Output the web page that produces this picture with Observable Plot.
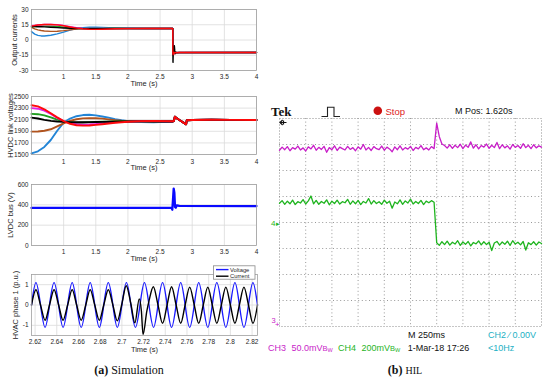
<!DOCTYPE html>
<html><head><meta charset="utf-8">
<script src="https://cdn.jsdelivr.net/npm/d3@7"></script>
<script src="https://cdn.jsdelivr.net/npm/@observablehq/plot@0.6"></script>
<style>
body{margin:0;background:#fff;}
#root{position:relative;width:550px;height:381px;overflow:hidden;background:#fff;}
</style></head><body><div id="root"></div>
<script>
// ---------- Panel 1: Output currents ----------
const curTimes = [0.5, 0.55, 0.6, 0.65, 0.7, 0.8, 0.9, 1.0, 1.1, 1.2, 1.3, 1.4, 1.5, 1.6, 1.8, 2.0, 2.3, 2.697];
const curBlue    = [8.2, 5.8, 4.5, 4.0, 4.0, 4.7, 6.0, 7.8, 9.7, 11.2, 12.2, 12.6, 12.6, 12.4, 11.9, 11.5, 11.3, 11.3];
const curBrown   = [12.5, 11.0, 10.0, 9.3, 8.9, 8.5, 8.6, 9.2, 10.0, 10.8, 11.2, 11.4, 11.4, 11.4, 11.3, 11.3, 11.3, 11.3];
const curGreen   = [13.0, 13.2, 13.4, 13.5, 13.6, 13.6, 13.3, 12.7, 12.0, 11.5, 11.2, 11.1, 11.1, 11.2, 11.3, 11.3, 11.3, 11.3];
const curMagenta = [14.0, 14.4, 14.8, 15.0, 15.2, 15.3, 15.0, 14.2, 13.0, 12.0, 11.3, 11.0, 10.9, 11.0, 11.2, 11.3, 11.3, 11.3];
const curBlack   = [13.2, 13.2, 13.1, 13.0, 12.9, 12.6, 12.2, 11.8, 11.5, 11.3, 11.2, 11.2, 11.2, 11.2, 11.3, 11.3, 11.3, 11.3];
const curRed     = [13.6, 14.2, 14.7, 15.0, 15.2, 15.3, 14.9, 14.0, 12.8, 11.7, 11.0, 10.6, 10.5, 10.6, 11.0, 11.2, 11.3, 11.3];
const curTailT = [2.699, 2.703, 2.708, 2.715, 2.725, 2.74, 2.8, 4.0];
const curTailV = [-13, -14.5, -12, -13.5, -12.3, -12.5, -12.3, -12.3];
const curBlackTailT = [2.699, 2.701, 2.705, 2.712, 2.722, 2.728, 2.735, 2.745, 2.76, 4.0];
const curBlackTailV = [-10, -22, -13, -8, -5.5, -10, -13.5, -12, -12.4, -12.3];
const curXTicks = [1, 1.5, 2, 2.5, 3, 3.5, 4];
const curYTicks = [-30, -15, 0, 15, 30];

// ---------- Panel 2: HVDC link voltages ----------
const hvdcTimes = [0.5, 0.6, 0.7, 0.8, 0.9, 1.0, 1.1, 1.2, 1.3, 1.4, 1.5, 1.6, 1.7, 1.8, 1.9, 2.0, 2.2, 2.4, 2.6, 2.7];
const hvdcBlue    = [1520, 1555, 1630, 1750, 1910, 2050, 2120, 2160, 2180, 2185, 2175, 2155, 2135, 2110, 2090, 2075, 2060, 2055, 2062, 2068];
const hvdcBrown   = [1895, 1897, 1910, 1935, 1985, 2035, 2080, 2108, 2122, 2128, 2126, 2118, 2105, 2092, 2082, 2076, 2070, 2068, 2068, 2068];
const hvdcGreen   = [2200, 2195, 2175, 2140, 2100, 2070, 2055, 2050, 2052, 2056, 2060, 2064, 2067, 2070, 2072, 2073, 2073, 2070, 2068, 2068];
const hvdcMagenta = [2300, 2290, 2255, 2200, 2130, 2075, 2040, 2022, 2015, 2018, 2025, 2035, 2045, 2055, 2062, 2067, 2072, 2072, 2070, 2070];
const hvdcBlack   = [2135, 2120, 2098, 2080, 2068, 2062, 2058, 2057, 2057, 2058, 2060, 2063, 2065, 2067, 2069, 2070, 2071, 2070, 2069, 2069];
const hvdcRed     = [2350, 2330, 2280, 2210, 2140, 2075, 2030, 2005, 1998, 2000, 2010, 2022, 2035, 2047, 2057, 2065, 2075, 2078, 2075, 2072];
const hvdcTailT = [2.715, 2.73, 2.74, 2.80, 2.87, 2.905, 2.915, 3.0, 3.3, 3.6, 4.0];
const hvdcTailV = [2078, 2150, 2140, 2095, 2045, 2020, 2090, 2095, 2100, 2097, 2095];
const hvdcYTicks = [1500, 1700, 1900, 2100, 2300, 2500];

// ---------- Panel 3: LVDC bus ----------
const lvdcT = [0.5, 2.68, 2.69, 2.70, 2.712, 2.722, 2.732, 2.745, 2.76, 2.8, 4.0];
const lvdcV = [370, 370, 352, 440, 560, 520, 380, 372, 395, 390, 388];
const lvdcYTicks = [0, 200, 400, 600];

// ---------- Panel 4: HVAC phase 1 ----------
const hvacT = [2.6167, 2.6208, 2.6250, 2.6292, 2.6333, 2.6375, 2.6417, 2.6458, 2.6500, 2.6542,
  2.6583, 2.6625, 2.6667, 2.6708, 2.6750, 2.6792, 2.6833, 2.6875, 2.6917, 2.6958,
  2.7000, 2.7042, 2.7083, 2.7125, 2.7167, 2.7208, 2.7250, 2.7292, 2.7333, 2.7375,
  2.7417, 2.7458, 2.7500, 2.7542, 2.7583, 2.7625, 2.7667, 2.7708, 2.7750, 2.7792,
  2.7833, 2.7875, 2.7917, 2.7958, 2.8000, 2.8042, 2.8083, 2.8125, 2.8167, 2.8208, 2.8250];
const hvacVoltage = [0, 1.1, 0, -1.1, 0, 1.1, 0, -1.1, 0, 1.1,
  0, -1.1, 0, 1.1, 0, -1.1, 0, 1.1, 0, -1.1,
  0, 1.1, 0, -1.1, 0, 1.1, 0, -1.1, 0, 1.1,
  0, -1.1, 0, 1.1, 0, -1.1, 0, 1.1, 0, -1.1,
  0, 1.1, 0, -1.1, 0, 1.1, 0, -1.1, 0, 1.1, 0];
const hvacCurT = [2.6167, 2.6208, 2.6250, 2.6292, 2.6333, 2.6375, 2.6417, 2.6458, 2.6500, 2.6542,
  2.6583, 2.6625, 2.6667, 2.6708, 2.6750, 2.6792, 2.6833, 2.6875, 2.6917, 2.6958,
  2.7000, 2.7040, 2.7083, 2.7120, 2.7160, 2.7180, 2.7195, 2.7230, 2.7250, 2.7290,
  2.7333, 2.7375, 2.7417, 2.7458, 2.7500, 2.7542, 2.7583, 2.7625, 2.7667, 2.7708,
  2.7750, 2.7792, 2.7833, 2.7875, 2.7917, 2.7958, 2.8000, 2.8042, 2.8083, 2.8125,
  2.8167, 2.8208, 2.8250];
const hvacCurrent = [0, 0.75, 0, -0.75, 0, 0.75, 0, -0.75, 0, 0.75,
  0, -0.75, 0, 0.75, 0, -0.75, 0, 0.75, 0, -0.78,
  0.05, 0.95, 0.05, -0.88, 0.3, -0.3, -1.45, -0.3, 0.2, 0.9,
  0, -0.9, 0, 0.9, 0, -0.9, 0, 0.88, 0, -0.9,
  0, 0.88, 0, -0.9, 0, 0.88, 0, -0.9, 0, 0.88,
  0, -0.9, 0];
const hvacXTicks = [2.62, 2.64, 2.66, 2.68, 2.7, 2.72, 2.74, 2.76, 2.78, 2.8, 2.82];
const hvacYTicks = [-1, 0, 1];

// ---------- Oscilloscope (HIL), values in divisions, one sample per 0.1 div ----------
const scopeMagenta = [
  6.78,6.90,6.80,6.92,6.76,6.88,6.82,6.94,6.79,6.87,
  6.75,6.91,6.83,6.97,6.78,6.89,6.81,6.93,6.70,6.88,
  6.80,6.95,6.77,6.90,6.84,6.79,6.93,6.81,6.88,6.76,
  6.91,6.82,7.00,6.79,6.89,6.77,6.92,6.84,6.80,6.94,
  6.78,6.90,6.83,6.72,6.91,6.80,6.95,6.79,6.88,6.82,
  6.93,6.77,6.89,6.83,6.96,6.80,6.87,6.79,6.92,6.84,
  7.82,7.30,7.02,6.96,6.86,6.99,6.85,6.97,6.88,7.01,
  6.84,6.98,6.89,7.10,6.86,6.99,6.83,6.96,6.90,7.02,
  6.85,6.97,6.88,7.08,6.84,6.99,6.87,6.95,6.82,7.00,
  6.89,6.96,6.85,7.03,6.88,6.97,6.84,6.99,6.87,6.95,6.90];
const scopeGreen = [
  4.74,4.84,4.70,4.82,4.72,4.86,4.69,4.80,4.75,4.88,
  4.71,4.83,5.02,4.72,4.85,4.70,4.81,4.74,4.87,4.68,
  4.82,4.73,4.86,4.71,4.80,4.76,4.89,4.70,4.83,4.72,
  4.85,4.69,4.81,4.75,4.92,4.71,4.84,4.73,4.80,4.70,
  4.86,4.74,4.82,4.55,4.79,4.72,4.87,4.70,4.83,4.75,
  4.90,4.71,4.81,4.73,4.85,4.69,4.82,4.76,4.84,4.78,
  3.22,3.12,3.26,3.15,3.28,3.13,3.24,3.17,3.30,3.12,
  3.25,3.16,3.27,3.10,3.23,3.18,3.29,3.14,3.26,3.15,
  3.24,2.92,3.21,3.27,3.13,3.25,3.16,3.28,3.12,3.30,
  3.17,3.24,3.14,3.27,2.94,3.22,3.15,3.26,3.13,3.25,3.19];
const scopeXGrid = [10, 20, 30, 40, 50, 60, 70, 80, 90];
const scopeYGrid = [1, 2, 3, 4, 5, 6, 7];

// ---------- colours ----------
const C = {blue:"#2385d6", brown:"#b0531e", green:"#1f9e1f", magenta:"#e21fe2", black:"#000000", red:"#ff0a0a"};
const FONT = "'Liberation Sans', Arial, sans-serif";
const root = document.getElementById("root");

function put(el, left, top) {
  el.style.position = "absolute";
  el.style.left = left + "px";
  el.style.top = top + "px";
  root.appendChild(el);
}

function panel(cfg) {
  const W = 270;
  const h = cfg.mTop + cfg.frameH + cfg.mBottom;
  const p = Plot.plot({
    width: W, height: h,
    marginLeft: 31, marginRight: cfg.mRight, marginTop: cfg.mTop, marginBottom: cfg.mBottom,
    style: {background: "transparent", fontFamily: FONT, overflow: "visible", color: "#262626"},
    x: {domain: cfg.xDomain},
    y: {domain: cfg.yDomain},
    marks: [
      Plot.gridX(cfg.xTicks, {stroke: "#dadada", strokeOpacity: 1, strokeWidth: 0.8}),
      Plot.gridY(cfg.yTicks, {stroke: "#dadada", strokeOpacity: 1, strokeWidth: 0.8}),
      ...cfg.lines,
      Plot.frame({stroke: "#a0a0a0", strokeWidth: 0.8}),
      Plot.axisX(cfg.xTicks, {tickSize: 0, tickPadding: cfg.xPad ?? 3.5, tickFormat: d => String(d), fontSize: 6.5, label: null}),
      Plot.axisY(cfg.yTicks, {tickSize: 0, tickPadding: 3, tickFormat: d => String(d), fontSize: 6.5, label: null}),
      Plot.text(["Time (s)"], {text: d => d, frameAnchor: "bottom", textAnchor: "middle", dy: cfg.xLabelDy ?? 15.5, fontSize: 7.5, fill: "#262626"}),
      Plot.text([cfg.ylabel], {text: d => d, frameAnchor: "left", textAnchor: "middle", dx: cfg.yLabelDx, rotate: -90, fontSize: 7.5, fill: "#262626"})
    ]
  });
  put(p, 0, cfg.top);
}

function seriesLine(t, v, color, w, extra = {}) {
  return Plot.line(t, {x: t, y: v, stroke: color, strokeWidth: w, strokeLinejoin: "round", ...extra});
}

// Panel 1
const p1 = [
  ["blue", curBlue], ["brown", curBrown], ["green", curGreen], ["magenta", curMagenta]
].map(([c, v]) => seriesLine(curTimes.concat(curTailT), v.concat(curTailV), C[c], 1.4));
p1.push(seriesLine(curTimes.concat(curBlackTailT), curBlack.concat(curBlackTailV), C.black, 1.4));
p1.push(seriesLine(curTimes.concat(curTailT), curRed.concat(curTailV), C.red, 1.4));
panel({top: 0, mTop: 9, frameH: 61, mBottom: 22, mRight: 14, xDomain: [0.5, 4], xTicks: curXTicks,
  yDomain: [-30, 30], yTicks: curYTicks, ylabel: "Output currents", yLabelDx: -17, lines: p1});

// Panel 2
const p2 = [
  ["blue", hvdcBlue], ["brown", hvdcBrown], ["green", hvdcGreen], ["magenta", hvdcMagenta], ["black", hvdcBlack], ["red", hvdcRed]
].map(([c, v]) => seriesLine(hvdcTimes.concat(hvdcTailT), v.concat(hvdcTailV), C[c], 1.9));
panel({top: 88, mTop: 8, frameH: 58, mBottom: 20, mRight: 14, xDomain: [0.5, 4], xTicks: curXTicks,
  yDomain: [1500, 2500], yTicks: hvdcYTicks, ylabel: "HVDC link voltages", yLabelDx: -21, lines: p2, xPad: 5});

// Panel 3
panel({top: 176, mTop: 8, frameH: 61, mBottom: 18, mRight: 14, xDomain: [0.5, 4], xTicks: curXTicks,
  yDomain: [0, 600], yTicks: lvdcYTicks, ylabel: "LVDC bus (V)", yLabelDx: -20.5,
  lines: [seriesLine(lvdcT, lvdcV, "#0a0aff", 2.3)]});

// Panel 4
panel({top: 266, mTop: 8, frameH: 61, mBottom: 22, mRight: 13, xDomain: [2.6167, 2.825], xTicks: hvacXTicks,
  yDomain: [-1.5, 1.5], yTicks: hvacYTicks, ylabel: "HVAC phase 1 (p.u.)", yLabelDx: -16, xLabelDy: 16.5,
  lines: [
    seriesLine(hvacT, hvacVoltage, "#1a1aff", 1.4, {curve: "natural"}),
    seriesLine(hvacCurT, hvacCurrent, "#000000", 1.4, {curve: "monotone-x"})
  ]});

// Oscilloscope
const scope = Plot.plot({
  width: 262, height: 208, margin: 0,
  style: {background: "transparent", overflow: "visible"},
  x: {domain: [0, 100], axis: null},
  y: {domain: [0, 8], axis: null},
  marks: [
    Plot.gridX(scopeXGrid, {stroke: "#8c8c8c", strokeOpacity: 1, strokeWidth: 0.9, strokeDasharray: "1,2.6"}),
    Plot.gridY(scopeYGrid, {stroke: "#8c8c8c", strokeOpacity: 1, strokeWidth: 0.9, strokeDasharray: "1,2.6"}),
    Plot.frame({stroke: "#8c8c8c", strokeWidth: 1, strokeDasharray: "1,2"}),
    Plot.line(scopeMagenta, {x: (d, i) => i, y: d => d, stroke: "#c81ec8", strokeWidth: 1.3}),
    Plot.line(scopeGreen, {x: (d, i) => i, y: d => d, stroke: "#1fb41f", strokeWidth: 1.3})
  ]
});
put(scope, 279, 118);

// ---------- annotation overlay (legend, captions, scope readouts) ----------
const svg = d3.create("svg").attr("width", 550).attr("height", 381)
  .style("position", "absolute").style("left", "0px").style("top", "0px").style("overflow", "visible");
// HVAC legend
const lg = svg.append("g");
lg.append("rect").attr("x", 213.5).attr("y", 265.8).attr("width", 41.5).attr("height", 13.4)
  .attr("fill", "#fff").attr("stroke", "#8a8a8a").attr("stroke-width", 0.8);
lg.append("line").attr("x1", 216).attr("x2", 228.5).attr("y1", 269.6).attr("y2", 269.6).attr("stroke", "#1a1aff").attr("stroke-width", 1.4);
lg.append("line").attr("x1", 216).attr("x2", 228.5).attr("y1", 276.2).attr("y2", 276.2).attr("stroke", "#000").attr("stroke-width", 1.4);
lg.append("text").attr("x", 230).attr("y", 271.7).text("Voltage").attr("font-size", 5.8).attr("font-family", FONT).attr("fill", "#262626");
lg.append("text").attr("x", 230).attr("y", 278.3).text("Current").attr("font-size", 5.8).attr("font-family", FONT).attr("fill", "#262626");

// captions
const cap = (x, bold, rest, small) => {
  const t = svg.append("text").attr("x", x).attr("y", 374).attr("text-anchor", "middle")
    .attr("font-family", "'Liberation Serif', 'DejaVu Serif', serif").attr("font-size", 12).attr("fill", "#111");
  t.append("tspan").attr("font-weight", "bold").text(bold);
  t.append("tspan").text(" ");
  const r = t.append("tspan").text(rest);
  if (small) r.attr("font-size", 10);
};
cap(129, "(a)", "Simulation");
cap(405, "(b)", "HIL", true);

// scope header
const txt = (x, y, s, size, color, extra = {}) => {
  const t = svg.append("text").attr("x", x).attr("y", y).text(s).attr("font-size", size)
    .attr("font-family", FONT).attr("fill", color);
  for (const k in extra) t.attr(k, extra[k]);
  return t;
};
txt(271, 116, "Tek", 13, "#111", {"font-family": "'Liberation Serif', serif", "font-weight": "bold"});
svg.append("path").attr("d", "M321.5,116.5H327.5V107.2H334V116.5H340").attr("fill", "none").attr("stroke", "#222").attr("stroke-width", 1.1);
svg.append("circle").attr("cx", 377.8).attr("cy", 110.8).attr("r", 4.3).attr("fill", "#cc1111");
txt(385.5, 114.5, "Stop", 9.5, "#dd2222");
txt(455, 114.3, "M Pos: 1.620s", 9, "#111");
// trigger-position arrow (drawn, not text)
svg.append("path").attr("d", "M280,122.5H286.5M282.6,120L280,122.5L282.6,125M283.5,120.5V124.5")
  .attr("fill", "none").attr("stroke", "#111").attr("stroke-width", 1.2);
// channel ground markers
txt(271, 226, "4", 8, "#1fb41f");
txt(276, 226, "▸", 7, "#1fb41f");
txt(271.5, 322.5, "3", 7.5, "#c81ec8");
txt(275, 327, "+", 8, "#c81ec8");
// bottom readouts
txt(408, 337.5, "M 250ms", 9, "#111");
txt(488, 337.5, "CH2 ⁄ 0.00V", 9, "#22b0c4");
txt(268, 350.5, "CH3", 9, "#c81ec8");
const bw = (x, s, color) => {
  const t = txt(x, 350.5, s, 9, color);
  t.append("tspan").text("B").attr("font-size", 7.5);
  t.append("tspan").text("W").attr("font-size", 5.5).attr("dy", 1.8);
};
bw(291.5, "50.0mV", "#c81ec8");
txt(338, 350.5, "CH4", 9, "#1fb41f");
bw(361.5, "200mV", "#1fb41f");
txt(407.7, 350.5, "1-Mar-18 17:26", 9, "#111");
txt(488, 350.5, "<10Hz", 9, "#22b0c4");
root.appendChild(svg.node());
</script>
</body></html>
